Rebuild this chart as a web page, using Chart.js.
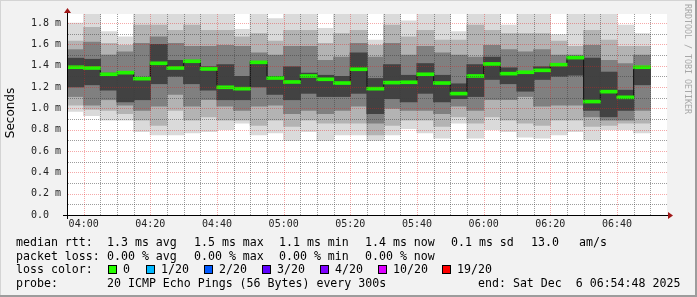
<!DOCTYPE html>
<html lang="en">
<head>
<meta charset="UTF-8">
<title>Smokeping latency</title>
<style>
  html, body { margin: 0; padding: 0; background: #f2f2f2; }
  #wrap { width: 697px; height: 297px; }
</style>
</head>
<body>
<div id="wrap"><canvas id="c" width="697" height="297"></canvas></div>

<script src="https://cdn.jsdelivr.net/npm/chart.js"></script>
<script>
// 5 minute slots (start times)
const slots = ['03:55','04:00','04:05','04:10','04:15','04:20','04:25','04:30','04:35','04:40',
  '04:45','04:50','04:55','05:00','05:05','05:10','05:15','05:20','05:25','05:30',
  '05:35','05:40','05:45','05:50','05:55','06:00','06:05','06:10','06:15','06:20',
  '06:25','06:30','06:35','06:40','06:45'];

// median rtt (ms)
const median = [1.385, 1.378, 1.319, 1.334, 1.278, 1.422, 1.378, 1.441, 1.369, 1.197,
  1.184, 1.431, 1.284, 1.247, 1.303, 1.272, 1.237, 1.366, 1.184, 1.241,
  1.244, 1.319, 1.237, 1.138, 1.303, 1.416, 1.325, 1.338, 1.356, 1.409,
  1.475, 1.063, 1.156, 1.103, 1.385];

// smoke, outermost (lightest) to innermost (darkest)
const outerHi = [1.80, 1.92, 1.72, 1.67, 1.92, 1.92, 1.92, 1.92, 1.92, 1.92,
  1.74, 1.92, 1.84, 1.92, 1.92, 1.75, 1.92, 1.92, 1.64, 1.92,
  1.82, 1.92, 1.92, 1.72, 1.92, 1.92, 1.78, 1.92, 1.92, 1.69,
  1.92, 1.92, 1.92, 1.78, 1.70];
const outerLo = [0.97, 0.93, 0.89, 0.89, 0.78, 0.75, 0.75, 0.77, 0.78, 0.80,
  0.86, 0.75, 0.77, 0.70, 0.78, 0.70, 0.75, 0.75, 0.70, 0.75,
  0.81, 0.77, 0.72, 0.86, 0.72, 0.80, 0.78, 0.73, 0.72, 0.75,
  0.78, 0.70, 0.80, 0.80, 0.77];
const midHi = [1.63, 1.76, 1.61, 1.59, 1.78, 1.78, 1.73, 1.78, 1.73, 1.73,
  1.67, 1.70, 1.63, 1.73, 1.73, 1.61, 1.70, 1.73, 1.59, 1.78,
  1.67, 1.73, 1.64, 1.64, 1.78, 1.73, 1.70, 1.70, 1.70, 1.63,
  1.58, 1.73, 1.64, 1.58, 1.58];
const midLo = [1.03, 0.99, 0.98, 0.95, 0.89, 0.84, 0.98, 0.89, 0.92, 0.89,
  0.89, 0.84, 0.89, 0.83, 0.89, 0.86, 0.86, 0.86, 0.75, 0.84,
  0.89, 0.89, 0.83, 0.92, 0.86, 0.92, 0.89, 0.86, 0.84, 0.89,
  0.89, 0.83, 0.84, 0.86, 0.86];
const innerHi = [1.55, 1.62, 1.50, 1.53, 1.61, 1.67, 1.61, 1.58, 1.58, 1.59,
  1.58, 1.52, 1.50, 1.58, 1.58, 1.45, 1.48, 1.61, 1.48, 1.61,
  1.50, 1.58, 1.52, 1.50, 1.48, 1.59, 1.55, 1.53, 1.55, 1.50,
  1.50, 1.59, 1.45, 1.42, 1.50];
const innerLo = [1.11, 1.03, 1.08, 1.03, 0.98, 1.02, 1.13, 1.02, 1.08, 1.02,
  0.98, 1.02, 1.03, 0.95, 0.98, 0.95, 0.98, 1.02, 0.86, 1.00,
  0.98, 0.98, 0.95, 1.02, 0.98, 1.08, 1.08, 1.11, 1.02, 1.03,
  1.03, 0.92, 0.89, 0.89, 0.98];
const coreHi = [1.47, 1.46, 1.33, 1.33, 1.28, 1.60, 1.45, 1.45, 1.39, 1.41,
  1.30, 1.44, 1.30, 1.39, 1.33, 1.31, 1.30, 1.52, 1.28, 1.41,
  1.31, 1.42, 1.31, 1.23, 1.41, 1.48, 1.38, 1.33, 1.39, 1.42,
  1.47, 1.47, 1.34, 1.17, 1.39];
const coreLo = [1.20, 1.22, 1.17, 1.06, 1.08, 1.23, 1.30, 1.23, 1.17, 1.08,
  1.08, 1.20, 1.13, 1.08, 1.14, 1.11, 1.11, 1.14, 0.95, 1.09,
  1.06, 1.14, 1.06, 1.09, 1.11, 1.27, 1.23, 1.16, 1.27, 1.30,
  1.31, 0.98, 0.92, 0.98, 1.22];

const xTickLabels = ['04:00','04:20','04:40','05:00','05:20','05:40','06:00','06:20','06:40'];
const yTickLabels = ['0.0  ','0.2 m','0.4 m','0.6 m','0.8 m','1.0 m','1.2 m','1.4 m','1.6 m','1.8 m'];

const statsRtt = ['1.3 ms avg', '1.5 ms max', '1.1 ms min', '1.4 ms now', '0.1 ms sd', '13.0', 'am/s'];
const statsLoss = ['0.00 % avg', '0.00 % max', '0.00 % min', '0.00 % now'];
const lossNames = ['0', '1/20', '2/20', '3/20', '4/20', '10/20', '19/20'];
const lossColors = ['#26ff00', '#00b8ff', '#0059ff', '#5e00ff', '#7e00ff', '#dd00ff', '#ff0000'];

const toMin = s => { const p = s.split(':'); return +p[0] * 60 + +p[1]; };
const centers = slots.map(s => toMin(s) + 2.5);
const xMin = toMin(slots[0]);
const xMax = xMin + 180;

function band(lo, hi) {
  return centers.map((x, i) => ({ x: x, y: [lo[i], hi[i]] }));
}

const MONO = 'DejaVu Sans Mono';
const MAJOR = 'rgba(230,30,30,0.38)';
const MINOR = 'rgba(60,60,60,0.5)';

// dotted rrd style grid over the smoke, at the scales' own tick positions
const dotGrid = {
  id: 'dotGrid',
  afterDatasetsDraw(chart) {
    const ctx = chart.ctx, a = chart.chartArea;
    const sx = chart.scales.x, sy = chart.scales.y;
    ctx.save();
    sx.ticks.forEach(t => {
      const v = Math.round(t.value);
      if (v <= xMin || v >= xMax) return;
      const px = Math.round(sx.getPixelForValue(t.value));
      ctx.fillStyle = v % 20 === 0 ? MAJOR : MINOR;
      for (let y = Math.ceil(a.top); y < a.bottom; y += 2) ctx.fillRect(px, y, 1, 1);
    });
    sy.ticks.forEach(t => {
      const v = t.value;
      if (v <= 0.001 || v > 1.85) return;
      const py = Math.round(sy.getPixelForValue(v));
      ctx.fillStyle = Math.round(v * 10) % 2 === 0 ? MAJOR : MINOR;
      for (let x = Math.ceil(a.left) + 1; x < a.right; x += 2) ctx.fillRect(x, py, 1, 1);
    });
    ctx.restore();
  }
};

const decor = {
  id: 'decor',
  beforeDraw(chart) {
    const ctx = chart.ctx, a = chart.chartArea;
    ctx.save();
    ctx.fillStyle = '#f2f2f2';
    ctx.fillRect(0, 0, 697, 297);
    ctx.fillStyle = '#d4d4d4';
    ctx.fillRect(0, 0, 697, 1);
    ctx.fillRect(0, 0, 1, 297);
    ctx.fillStyle = '#9c9c9c';
    ctx.fillRect(0, 295, 697, 2);
    ctx.fillRect(695, 0, 2, 297);
    ctx.fillStyle = '#ffffff';
    ctx.fillRect(a.left, a.top, a.right - a.left, a.bottom - a.top);
    ctx.restore();
  },
  afterDraw(chart) {
    const ctx = chart.ctx, a = chart.chartArea;
    ctx.save();
    // axes
    ctx.strokeStyle = '#000';
    ctx.lineWidth = 1;
    ctx.beginPath();
    ctx.moveTo(63, a.bottom + 0.5); ctx.lineTo(669, a.bottom + 0.5);
    ctx.moveTo(a.left + 0.5, a.bottom + 4); ctx.lineTo(a.left + 0.5, 11);
    ctx.stroke();
    ctx.fillStyle = '#a01818';
    ctx.beginPath();
    ctx.moveTo(668, a.bottom - 3); ctx.lineTo(673, a.bottom + 0.5); ctx.lineTo(668, a.bottom + 4);
    ctx.closePath(); ctx.fill();
    ctx.beginPath();
    ctx.moveTo(a.left - 3, 13); ctx.lineTo(a.left + 0.5, 8); ctx.lineTo(a.left + 4, 13);
    ctx.closePath(); ctx.fill();

    // y title
    ctx.fillStyle = '#000';
    ctx.font = '12px "DejaVu Sans"';
    ctx.textAlign = 'center';
    ctx.textBaseline = 'middle';
    ctx.save();
    ctx.translate(11, 113);
    ctx.rotate(-Math.PI / 2);
    ctx.fillText('Seconds', 0, 0);
    ctx.restore();

    // credit
    ctx.save();
    ctx.fillStyle = '#a8a8a8';
    ctx.font = '8.3px "' + MONO + '"';
    ctx.textAlign = 'left';
    ctx.textBaseline = 'alphabetic';
    ctx.translate(684.5, 4);
    ctx.rotate(Math.PI / 2);
    ctx.fillText('RRDTOOL / TOBI OETIKER', 0, 0);
    ctx.restore();

    // legend
    ctx.fillStyle = '#000';
    ctx.font = '11.6px "' + MONO + '"';
    ctx.textAlign = 'left';
    ctx.textBaseline = 'alphabetic';
    const rttX = [107, 194, 279, 365, 451, 531, 579];
    ctx.fillText('median rtt:', 16, 246);
    statsRtt.forEach((t, i) => ctx.fillText(t, rttX[i], 246));
    ctx.fillText('packet loss:', 16, 259.5);
    statsLoss.forEach((t, i) => ctx.fillText(t, rttX[i], 259.5));
    ctx.fillText('loss color:', 16, 273);
    const boxX = [108.5, 146.5, 204.5, 262.5, 320.5, 378.5, 442.5];
    lossNames.forEach((t, i) => {
      ctx.fillStyle = lossColors[i];
      ctx.fillRect(boxX[i], 265.5, 8, 8);
      ctx.strokeStyle = '#000';
      ctx.strokeRect(boxX[i], 265.5, 8, 8);
      ctx.fillStyle = '#000';
      ctx.fillText(t, boxX[i] + 14.5, 273);
    });
    ctx.fillText('probe:', 16, 287);
    ctx.fillText('20 ICMP Echo Pings (56 Bytes) every 300s', 107, 287);
    ctx.fillText('end: Sat Dec  6 06:54:48 2025', 478, 287);
    ctx.restore();
  }
};

const barOpts = { grouped: false, barPercentage: 1, categoryPercentage: 1, barThickness: 17.2, borderWidth: 0 };

new Chart(document.getElementById('c'), {
  type: 'bar',
  data: {
    datasets: [
      Object.assign({ data: band(outerLo, outerHi), backgroundColor: '#dadada', order: 6 }, barOpts),
      Object.assign({ data: band(midLo, midHi), backgroundColor: '#b3b3b3', order: 5 }, barOpts),
      Object.assign({ data: band(innerLo, innerHi), backgroundColor: '#808080', order: 4 }, barOpts),
      Object.assign({ data: band(coreLo, coreHi), backgroundColor: '#424242', order: 3 }, barOpts),
      {
        type: 'line',
        data: centers.map((x, i) => ({ x: x, y: median[i] })),
        stepped: 'middle',
        borderColor: '#111',
        borderWidth: 1,
        pointRadius: 0,
        order: 2
      },
      Object.assign({
        data: centers.map((x, i) => ({ x: x, y: [median[i] - 0.014, median[i] + 0.014] })),
        backgroundColor: '#22f500', order: 1
      }, barOpts)
    ]
  },
  options: {
    responsive: false,
    animation: false,
    devicePixelRatio: 1,
    layout: { padding: { left: 0, right: 30, top: 14, bottom: 0 } },
    plugins: { legend: { display: false }, tooltip: { enabled: false } },
    scales: {
      x: {
        type: 'linear',
        min: xMin,
        max: xMax,
        offset: false,
        afterFit(s) { s.height = 82; },
        grid: { display: false, offset: false, drawTicks: false },
        border: { display: false },
        ticks: {
          stepSize: 5,
          maxTicksLimit: 100,
          includeBounds: false,
          autoSkip: false,
          maxRotation: 0,
          padding: 3,
          color: '#222',
          font: { family: MONO, size: 10 },
          callback: v => {
            const i = xTickLabels.findIndex(t => toMin(t) === Math.round(v));
            return i >= 0 ? xTickLabels[i] : '';
          }
        }
      },
      y: {
        min: 0,
        max: 1.884,
        afterFit(s) { s.width = 67; },
        grid: { display: false, drawTicks: false },
        border: { display: false },
        ticks: {
          stepSize: 0.1,
          maxTicksLimit: 100,
          includeBounds: false,
          autoSkip: false,
          padding: 6,
          color: '#222',
          font: { family: MONO, size: 10 },
          callback: v => {
            const k = Math.round(v * 10);
            if (Math.abs(v * 10 - k) > 0.01 || k % 2 !== 0) return '';
            return yTickLabels[k / 2] || '';
          }
        }
      }
    }
  },
  plugins: [decor, dotGrid]
});
</script>
</body>
</html>
